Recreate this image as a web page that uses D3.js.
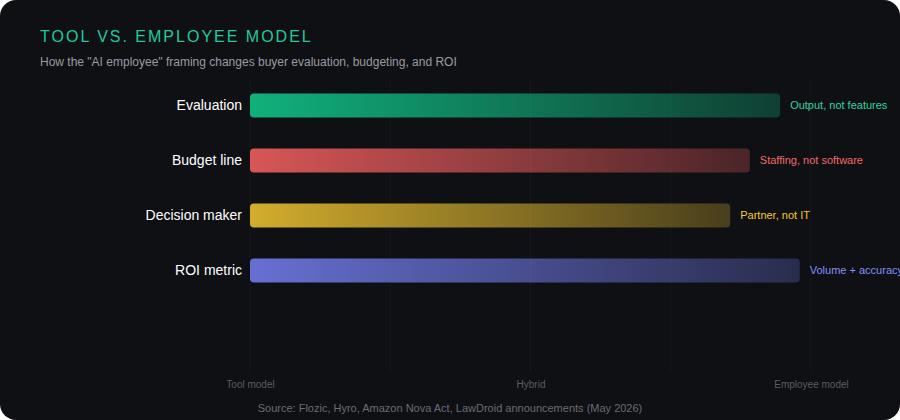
<!DOCTYPE html>
<html><head><meta charset="utf-8">
<script src="https://cdn.jsdelivr.net/npm/d3@7"></script>
<style>
html,body{margin:0;padding:0;background:#ffffff;}
svg{display:block;}
</style></head>
<body>
<svg id="chart" width="900" height="420"></svg>
<script>
const categories = ["Evaluation", "Budget line", "Decision maker", "ROI metric"];
const values = [94.5, 89.1, 85.6, 98.0];
const annotations = ["Output, not features", "Staffing, not software", "Partner, not IT", "Volume + accuracy"];
const barColors = ["#10b981", "#e35a5a", "#dcb52e", "#6b75dc"];
const textColors = ["#2fd3a0", "#f06a6a", "#f5c92a", "#8590f5"];
const axisTicks = [0, 50, 100];
const axisLabels = ["Tool model", "Hybrid", "Employee model"];
const gridTicks = [0, 25, 50, 75, 100];

const W = 900, H = 420;
const svg = d3.select("#chart");
const font = "'Liberation Sans', Arial, Helvetica, sans-serif";

svg.append("rect").attr("x", 0).attr("y", 0).attr("width", W).attr("height", H)
  .attr("rx", 16).attr("fill", "#0f1014");

const x = d3.scaleLinear().domain([0, 100]).range([250, 811]);
const y = d3.scaleBand().domain(categories).range([78, 298]).paddingInner(0.5636).paddingOuter(0.2818);

// gradients
const defs = svg.append("defs");
categories.forEach((c, i) => {
  const g = defs.append("linearGradient").attr("id", "grad" + i)
    .attr("x1", "0%").attr("x2", "100%").attr("y1", "0%").attr("y2", "0%");
  g.append("stop").attr("offset", "0%").attr("stop-color", barColors[i]).attr("stop-opacity", 0.95);
  g.append("stop").attr("offset", "100%").attr("stop-color", barColors[i]).attr("stop-opacity", 0.28);
});

// grid
svg.append("g").selectAll("line").data(gridTicks).join("line")
  .attr("x1", d => x(d)).attr("x2", d => x(d))
  .attr("y1", 80).attr("y2", 372)
  .attr("stroke", "rgba(255,255,255,0.035)").attr("stroke-width", 1);

// title
svg.append("text").attr("x", 40).attr("y", 42)
  .attr("font-family", font).attr("font-size", 16).attr("font-weight", 500)
  .attr("letter-spacing", "2px").attr("fill", "#22c99b")
  .text("TOOL VS. EMPLOYEE MODEL");
svg.append("text").attr("x", 40).attr("y", 66)
  .attr("font-family", font).attr("font-size", 12).attr("fill", "#9a9ba2")
  .text('How the "AI employee" framing changes buyer evaluation, budgeting, and ROI');

// bars
const rows = svg.append("g").selectAll("g").data(categories).join("g");
rows.append("rect")
  .attr("x", x(0)).attr("y", d => y(d))
  .attr("width", (d, i) => x(values[i]) - x(0))
  .attr("height", y.bandwidth()).attr("rx", 4)
  .attr("fill", (d, i) => `url(#grad${i})`);
rows.append("text")
  .attr("x", x(0) - 8).attr("y", d => y(d) + y.bandwidth() / 2)
  .attr("dy", "0.35em").attr("text-anchor", "end")
  .attr("font-family", font).attr("font-size", 14).attr("fill", "#ffffff")
  .text(d => d);
rows.append("text")
  .attr("x", (d, i) => x(values[i]) + 10).attr("y", d => y(d) + y.bandwidth() / 2)
  .attr("dy", "0.35em")
  .attr("font-family", font).attr("font-size", 11)
  .attr("fill", (d, i) => textColors[i])
  .text((d, i) => annotations[i]);

// axis labels
const axis = d3.axisBottom(x).tickValues(axisTicks).tickFormat((d, i) => axisLabels[i]).tickSize(0);
const ag = svg.append("g").attr("transform", "translate(0,378)").call(axis);
ag.select(".domain").remove();
ag.selectAll("text").attr("font-family", font).attr("font-size", 10).attr("fill", "#5a5c63");

svg.append("text").attr("x", 450).attr("y", 412).attr("text-anchor", "middle")
  .attr("font-family", font).attr("font-size", 11).attr("fill", "#6a6c73")
  .text("Source: Flozic, Hyro, Amazon Nova Act, LawDroid announcements (May 2026)");
</script>
</body></html>
